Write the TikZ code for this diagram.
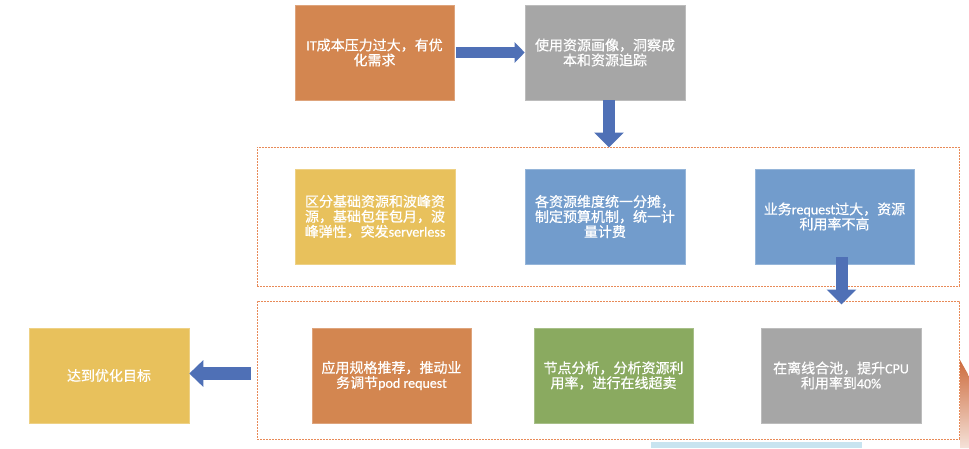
\documentclass[tikz,border=0pt]{standalone}
\usepackage{fontspec}
\setmainfont{Noto Sans CJK SC}[FakeBold=0.6]
\newfontfamily\lat{Carlito}[FakeBold=0.6]
\usetikzlibrary{arrows.meta,calc}
\definecolor{cOrange}{RGB}{211,134,80}
\definecolor{cGray}{RGB}{166,166,166}
\definecolor{cYellow}{RGB}{232,193,92}
\definecolor{cBlue}{RGB}{114,156,204}
\definecolor{cGreen}{RGB}{138,170,96}
\definecolor{cArrow}{RGB}{79,112,182}
\definecolor{cDash}{RGB}{232,138,88}
\definecolor{cLight}{RGB}{200,228,240}
\definecolor{cSliver}{RGB}{205,108,62}
\begin{document}
\begin{tikzpicture}[x=1pt,y=-1pt,
  box/.style={rectangle, fill=#1, draw=#1!75!white, line width=0.6pt,
    minimum width=159pt, minimum height=95pt, inner sep=0pt,
    text=white, align=center, font=\fontsize{14}{15}\selectfont},
  frame/.style={rectangle, draw=cDash, line width=1pt,
    dash pattern=on 2pt off 1pt, inner sep=0pt},
  rarrow/.style={draw=cArrow, line width=11pt, -{Triangle[length=10pt,width=20pt]}},
  darrow/.style={draw=cArrow, line width=12pt, -{Triangle[length=15pt,width=29pt]}},
  larrow/.style={draw=cArrow, line width=13pt, -{Triangle[length=14pt,width=26pt]}}]
\useasboundingbox (0,0) rectangle (969,448);
\fill[white] (0,0) rectangle (969,448);
% partial shapes at the lower right edge
\fill[cLight] (651,442) rectangle (862,448);
\shade[top color=cSliver, bottom color=cSliver!20!white]
  (960,360) -- (969,376) -- (969,448) -- (960,448) -- cycle;
% frames
\node[frame, minimum width=702pt, minimum height=139pt] (frame1) at (608,216.5) {};
\node[frame, minimum width=702pt, minimum height=138pt] (frame2) at (608,370) {};
% boxes
\node[box=cOrange] (b1) at (374.5,52.5) {{\lat IT}成本压力过大，有优\\化需求};
\node[box=cGray, minimum width=160pt] (b2) at (605,52.5) {使用资源画像，洞察成\\本和资源追踪};
\node[box=cYellow, minimum width=160pt] (b3) at (375,216.5) {区分基础资源和波峰资\\源，基础包年包月，波\\峰弹性，突发{\lat serverless}};
\node[box=cBlue, minimum width=160pt] (b4) at (605,216.5) {各资源维度统一分摊，\\制定预算机制，统一计\\量计费};
\node[box=cBlue] (b5) at (834.5,216.5) {业务{\lat request}过大，资源\\利用率不高};
\node[box=cYellow, minimum width=160pt] (b6) at (109,375.5) {达到优化目标};
\node[box=cOrange] (b7) at (391.5,375.5) {应用规格推荐，推动业\\务调节{\lat pod request}};
\node[box=cGreen] (b8) at (613.5,375.5) {节点分析，分析资源利\\用率，进行在线超卖};
\node[box=cGray, minimum width=160pt] (b9) at (841,375.5) {在离线合池，提升{\lat CPU}\\利用率到{\lat 40\%}};
% connectors
\coordinate (a1s) at ($(b1.east)+(2,0)$);
\draw[rarrow] (a1s) -- (b2.west);
\coordinate (a2s) at ($(b2.south)+(4,0)$);
\coordinate (a2e) at ($(frame1.north -| a2s)+(0,1)$);
\draw[darrow] (a2s) -- (a2e);
\coordinate (a3s) at ($(b5.south)+(7,-7)$);
\coordinate (a3e) at ($(frame2.north -| a3s)+(0,4)$);
\draw[darrow] (a3s) -- (a3e);
\coordinate (a4s) at ($(frame2.west |- b6.east)+(-6,-2)$);
\coordinate (a4e) at ($(b6.east)+(0,-2)$);
\draw[larrow] (a4s) -- (a4e);
\end{tikzpicture}
\end{document}
